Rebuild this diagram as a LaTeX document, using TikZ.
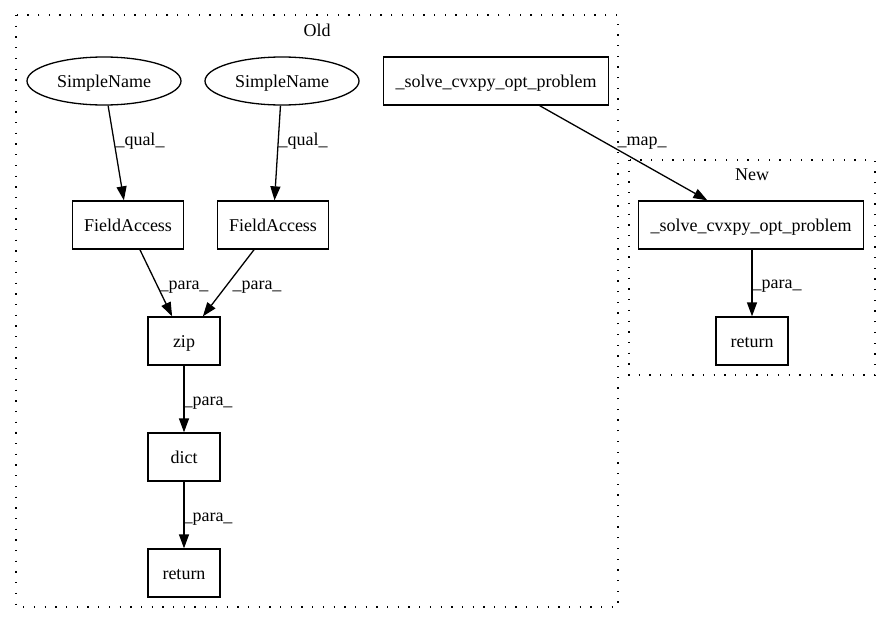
\documentclass[tikz,border=0pt]{standalone}
\usepackage{fontspec}
\setmainfont{Liberation Serif}
\usetikzlibrary{arrows.meta,shapes.geometric}
\begin{document}
\begin{tikzpicture}[x=1pt,y=-1pt,
  font=\fontsize{18}{21}\selectfont,
  box/.style={draw,line width=1.3pt,rectangle,inner sep=0pt,minimum height=48pt,text height=12pt,text depth=0pt},
  ell/.style={draw,line width=1.3pt,ellipse,inner sep=0pt,minimum width=154pt,minimum height=48pt,text height=12pt,text depth=0pt},
  cluster/.style={draw,line width=1.3pt,dash pattern=on 1.3pt off 9.4pt},
  conn/.style={line width=1.3pt,-{Triangle[length=14pt,width=10pt]}},
  lab/.style={anchor=base,inner sep=0pt}]
\useasboundingbox (0,0) rectangle (891,624);
% clusters
\draw[cluster] (16,15) rectangle (618,607);
\node[lab] (oldlab) at (317,36) {Old};
\draw[cluster] (629,160) rectangle (875,375);
\node[lab] (newlab) at (752,180) {New};
% nodes
\node[ell] (sn1) at (104,81) {SimpleName};
\node[ell] (sn2) at (282,81) {SimpleName};
\node[box,minimum width=225pt] (solold) at (496,81) {\_solve\_cvxpy\_opt\_problem};
\node[box,minimum width=111pt] (fa1) at (128,225) {FieldAccess};
\node[box,minimum width=111pt] (fa2) at (273,225) {FieldAccess};
\node[box,minimum width=72pt] (zip) at (184,341) {zip};
\node[box,minimum width=72pt] (dict) at (184,457) {dict};
\node[box,minimum width=72pt] (retold) at (184,573) {return};
\node[box,minimum width=225pt] (solnew) at (751,225) {\_solve\_cvxpy\_opt\_problem};
\node[box,minimum width=72pt] (retnew) at (752,341) {return};
% edges
\draw[conn] (sn1) -- (fa1);
\draw[conn] (sn2) -- (fa2);
\draw[conn] (fa1) -- (zip);
\draw[conn] (fa2) -- (zip);
\draw[conn] (zip) -- (dict);
\draw[conn] (dict) -- (retold);
\draw[conn] (solold) -- (solnew);
\draw[conn] (solnew.south -| retnew) -- (retnew);
% edge labels
\node[lab] (l1) at (140,145) {\_qual\_};
\node[lab] (l2) at (303,145) {\_qual\_};
\node[lab] (l3) at (184,289) {\_para\_};
\node[lab] (l4) at (257,289) {\_para\_};
\node[lab] (l5) at (208,405) {\_para\_};
\node[lab] (l6) at (208,521) {\_para\_};
\node[lab] (l7) at (642,145) {\_map\_};
\node[lab] (l8) at (777,288) {\_para\_};
\end{tikzpicture}
\end{document}
